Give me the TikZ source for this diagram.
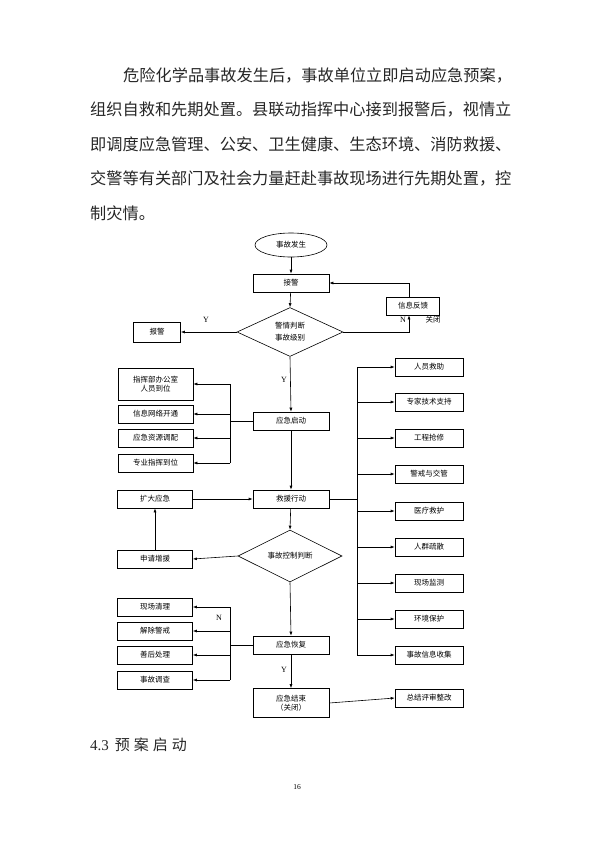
\documentclass[tikz,border=0pt]{standalone}
\usepackage{fontspec}
\setmainfont{Liberation Serif}
\newfontfamily\cjk{Noto Sans CJK SC}
\usetikzlibrary{shapes.geometric,arrows.meta}

\begin{document}
\begin{tikzpicture}[x=1pt,y=-1pt,
    box/.style={draw,line width=0.6pt,inner sep=1pt,minimum height=18pt,align=center,
      font=\cjk\fontsize{7.5}{9.5}\selectfont},
    cbox/.style={box,minimum width=76pt},
    lbox/.style={box,minimum width=75pt},
    rbox/.style={box,minimum width=68pt},
    judge/.style={draw,diamond,line width=0.6pt,inner sep=0pt,align=center,
      font=\cjk\fontsize{7.5}{12}\selectfont},
    arr/.style={line width=0.6pt,-{Latex[length=4pt,width=3pt]}},
    ln/.style={line width=0.6pt},
    lab/.style={inner sep=0pt,font=\fontsize{8}{9}\selectfont},
    para/.style={anchor=west,inner sep=0pt,text=black!85,font=\cjk\fontsize{16.2}{18}\selectfont}]
    \useasboundingbox (0,0) rectangle (595,841);

    % text above the chart
    \node[para] (p1) at (123,75) {危险化学品事故发生后，事故单位立即启动应急预案，};
    \node[para] (p2) at (90,109.5) {组织自救和先期处置。县联动指挥中心接到报警后，视情立};
    \node[para] (p3) at (90,144) {即调度应急管理、公安、卫生健康、生态环境、消防救援、};
    \node[para] (p4) at (90,178.5) {交警等有关部门及社会力量赶赴事故现场进行先期处置，控};
    \node[para] (p5) at (90,213) {制灾情。};

    % main column
    \node[draw,ellipse,line width=0.6pt,minimum width=72pt,minimum height=24pt,
      font=\cjk\fontsize{7.5}{9}\selectfont] (fs) at (291,245) {事故发生};
    \node[cbox] (jj) at (291,283) {接警};
    \node[judge,minimum width=106pt,minimum height=48pt] (pd) at (290,332) {警情判断\\事故级别};
    \node[box,minimum width=47pt,minimum height=20pt] (bj) at (157,332) {报警};
    \node[box,minimum width=53pt] (fk) at (413,306) {信息反馈};
    \node[cbox] (qd) at (291,421) {应急启动};
    \node[cbox] (jy) at (291,499) {救援行动};
    \node[judge,minimum width=104pt,minimum height=47pt] (kz) at (290,556) {事故控制判断};
    \node[cbox] (hf) at (291,645) {应急恢复};
    \node[cbox,minimum height=29pt] (js) at (291,703) {应急结束\\（关闭）};
    \node[rbox] (zj) at (429,698) {总结评审整改};

    % left boxes
    \node[lbox,minimum height=32pt] (z1) at (155.5,384) {指挥部办公室\\人员到位};
    \node[lbox] (z2) at (155.5,414) {信息网络开通};
    \node[lbox] (z3) at (155.5,438) {应急资源调配};
    \node[lbox] (z4) at (155.5,463) {专业指挥到位};
    \node[lbox] (kd) at (155,499) {扩大应急};
    \node[lbox] (zy) at (155,559) {申请增援};
    \node[lbox] (h1) at (155,607) {现场清理};
    \node[lbox] (h2) at (155,631) {解除警戒};
    \node[lbox] (h3) at (155,655) {善后处理};
    \node[lbox] (h4) at (155,680) {事故调查};

    % right boxes
    \node[rbox] (r1) at (429,367) {人员救助};
    \node[rbox] (r2) at (429,402) {专家技术支持};
    \node[rbox] (r3) at (429,438) {工程抢修};
    \node[rbox] (r4) at (429,474) {警戒与交管};
    \node[rbox] (r5) at (429,511) {医疗救护};
    \node[rbox] (r6) at (429,547) {人群疏散};
    \node[rbox] (r7) at (429,583) {现场监测};
    \node[rbox] (r8) at (429,619) {环境保护};
    \node[rbox] (r9) at (429,655) {事故信息收集};

    \coordinate (busa) at (230,421);
    \coordinate (busb) at (357,499);
    \coordinate (busc) at (230,645);

    % connectors
    \draw[arr] (fs) -- (jj);
    \draw[arr] (jj) -- (pd.north);
    \draw[arr] (pd.west) -- (bj.east);
    \draw[arr] (pd.east) -| ([xshift=-4pt]fk.south);
    \draw[arr] ([xshift=-4pt]fk.north) |- (jj.east);
    \draw[arr] (pd.south) -- (qd.north);
    \draw[arr] (qd) -- (jy);
    \draw[arr] (jy) -- (kz.north);
    \draw[arr] (kz.south) -- (hf.north);
    \draw[arr] (hf) -- (js);
    \draw[arr] (js.east) -- (zj.west);
    \draw[arr] (kd.east) -- (jy.west);
    \draw[arr] (kz.west) -- (zy.east);
    \draw[arr] (zy.north) -- (kd.south);

    \draw[ln] (qd.west) -- (busa);
    \draw[ln] (busa |- z1.east) -- (busa |- z4.east);
    \foreach \n in {z1,z2,z3,z4}
        \draw[arr] (busa |- \n.east) -- (\n.east);

    \draw[ln] (jy.east) -- (busb);
    \draw[ln] (busb |- r1.west) -- (busb |- r9.west);
    \foreach \n in {r1,r2,r3,r4,r5,r6,r7,r8,r9}
        \draw[arr] (busb |- \n.west) -- (\n.west);

    \draw[ln] (hf.west) -- (busc);
    \draw[ln] (busc |- h1.east) -- (busc |- h4.east);
    \foreach \n in {h1,h2,h3,h4}
        \draw[arr] (busc |- \n.east) -- (\n.east);

    % branch labels
    \node[lab] (y1) at (206,320) {Y};
    \node[lab] (y2) at (284,380) {Y};
    \node[lab] (y3) at (284,670) {Y};
    \node[lab] (n1) at (403,320) {N};
    \node[lab,font=\cjk\fontsize{7.5}{9}\selectfont] (gb) at (433,320) {关闭};
    \node[lab] (n2) at (219,618) {N};

    % heading and page number
    \node[anchor=west,inner sep=0pt,text=black!85,font=\fontsize{15}{18}\selectfont] (h43) at (90,745)
        {4.3\hspace{6pt}{\cjk 预\hspace{4pt}案\hspace{4pt}启\hspace{4pt}动}};
    \node[inner sep=0pt,font=\fontsize{7.5}{9}\selectfont] (pg) at (297,787) {16};
\end{tikzpicture}
\end{document}
